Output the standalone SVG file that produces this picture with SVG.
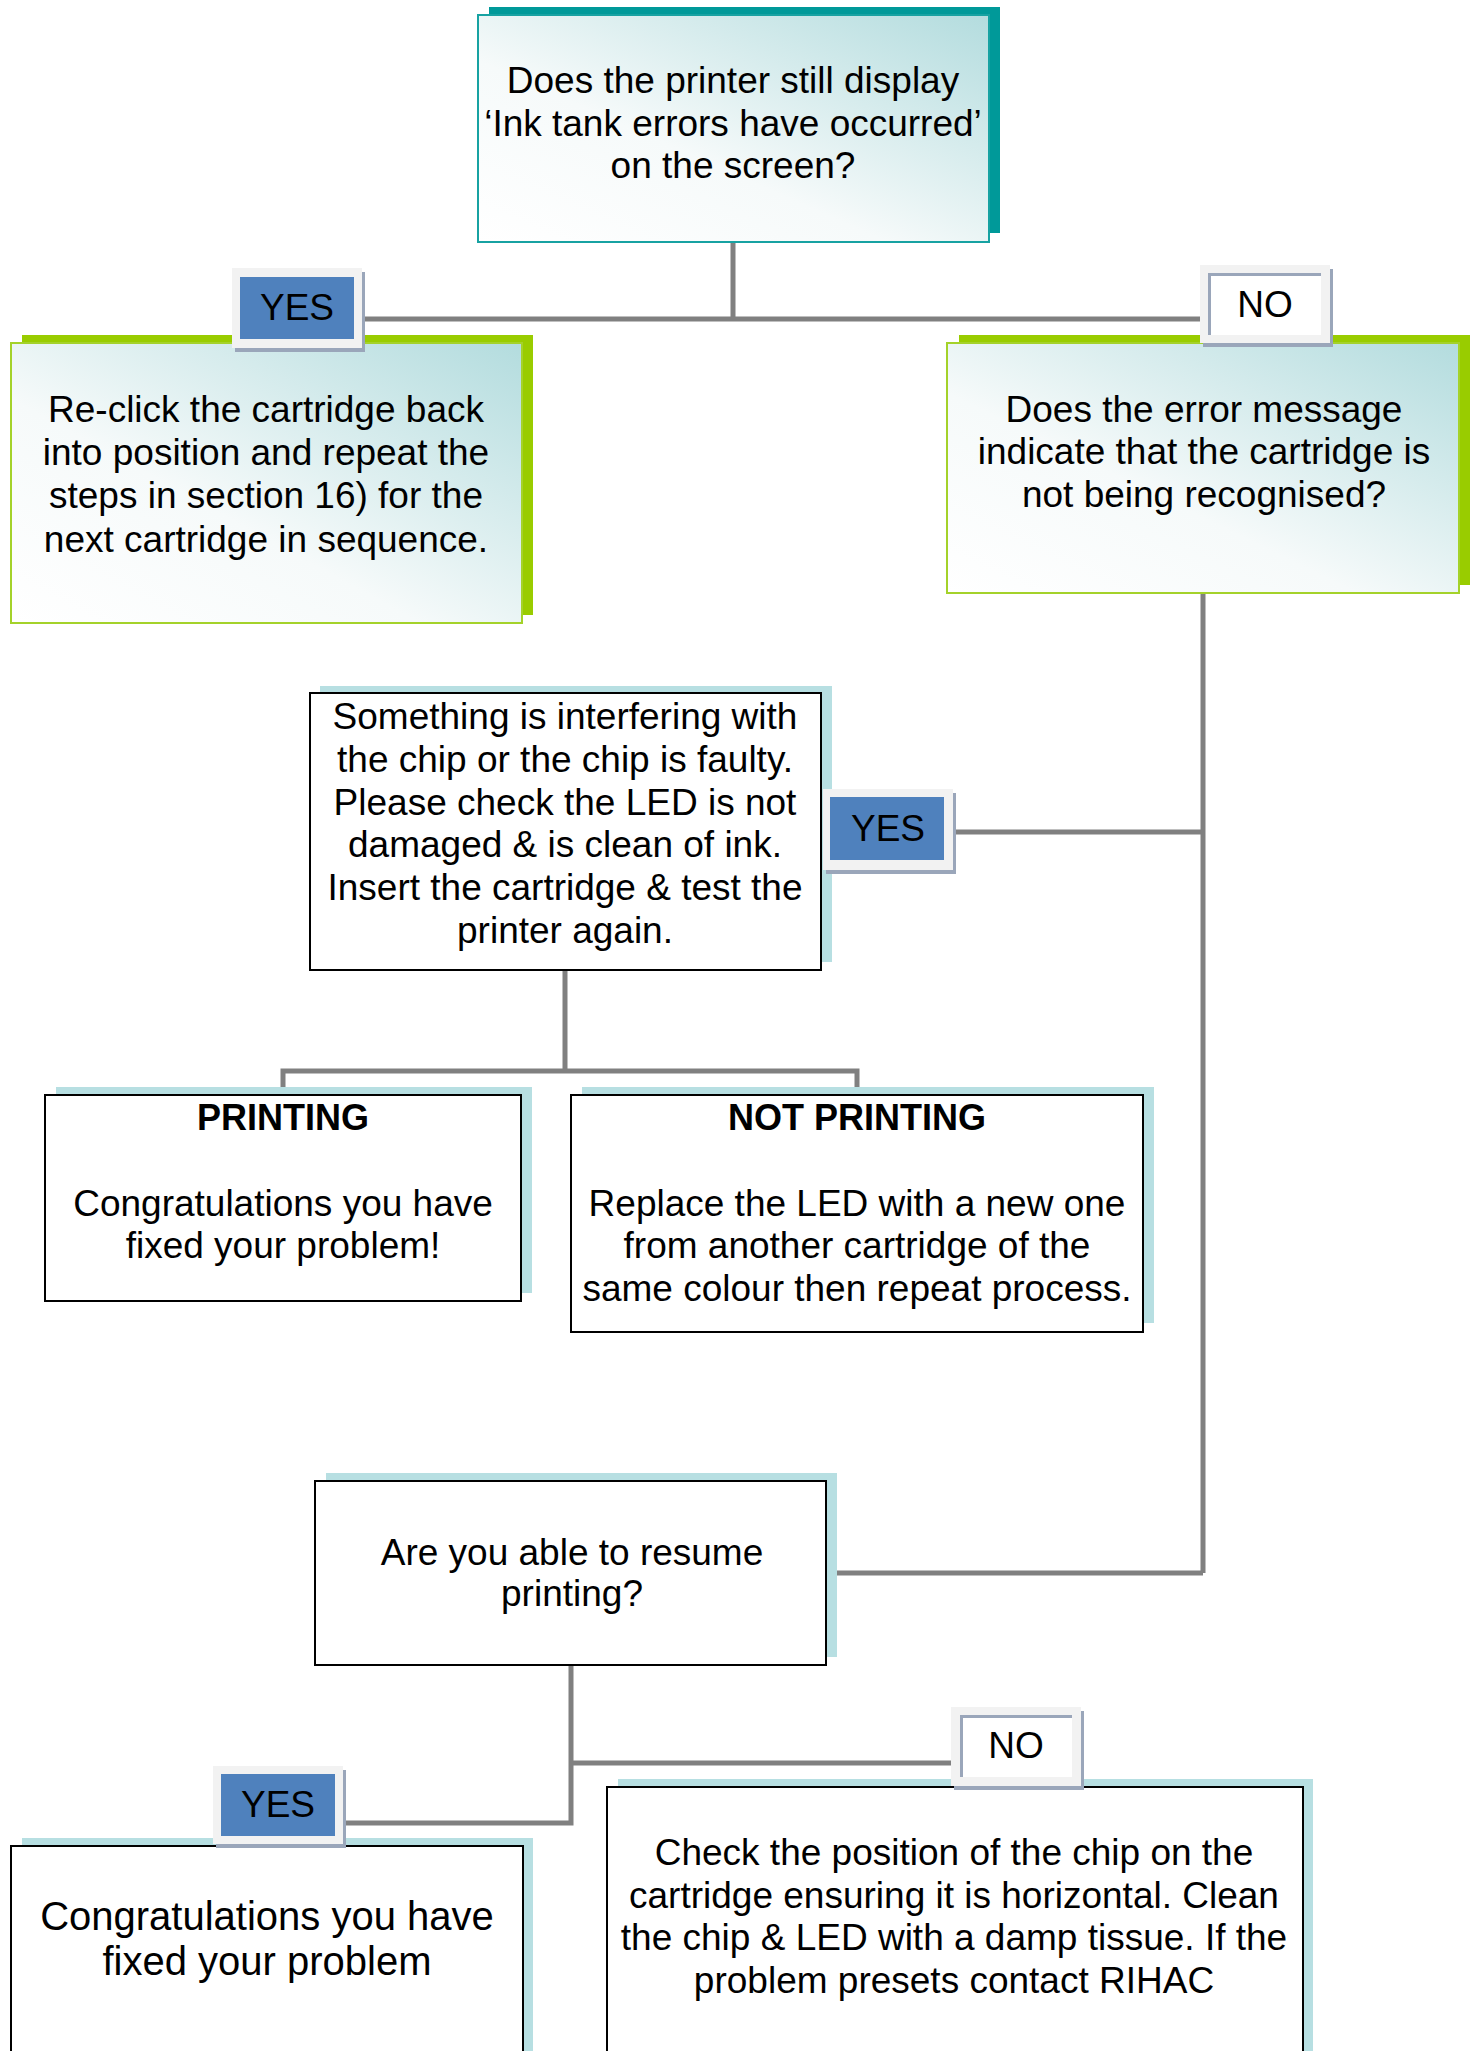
<svg xmlns="http://www.w3.org/2000/svg" width="1474" height="2051" viewBox="0 0 1474 2051">
<defs>
<linearGradient id="gradT" x1="0" y1="1" x2="1" y2="0">
<stop offset="0" stop-color="#ffffff"/>
<stop offset="0.4" stop-color="#f6fafa"/>
<stop offset="1" stop-color="#b3dcde"/>
</linearGradient>
<style>
text{font-family:"Liberation Sans",Arial,sans-serif;fill:#000;text-anchor:middle}
.t{font-size:37px}
.b{font-size:36px;font-weight:bold}
.big{font-size:40px}
.conn{stroke:#808080;stroke-width:5;fill:none}
.shTeal{fill:#009999}
.shGreen{fill:#99cc00}
.shBlue{fill:#b7dfe2}
.frTeal{fill:url(#gradT);stroke:#17a2a2;stroke-width:2}
.frGreen{fill:url(#gradT);stroke:#a4d22a;stroke-width:2}
.frPlain{fill:#ffffff;stroke:#000;stroke-width:2}
.lblOut{fill:#f2f2f2}
.lblSh{fill:#9aa6ba}
.lblBlue{fill:#4f81bd}
.lblWhite{fill:#ffffff}
</style>
</defs>
<rect width="1474" height="2051" fill="#ffffff"/>

<g id="connectors">
<path class="conn" d="M733 242 V319 M362 319 H1200"/>
<path class="conn" d="M1203 593 V1573 M953 832 H1203 M837 1573 H1203"/>
<path class="conn" d="M565 970 V1071 M283 1089 V1071 H857 V1089"/>
<path class="conn" d="M571 1665 V1823 H342 M571 1763 H951"/>
</g>

<g id="n_top">
<rect class="shTeal" x="489" y="7" width="511" height="226"/>
<rect class="frTeal" x="478" y="15" width="511" height="227"/>
<text class="t" x="733" y="93">Does the printer still display</text>
<text class="t" x="733" y="136">‘Ink tank errors have occurred’</text>
<text class="t" x="733" y="178">on the screen?</text>
</g>

<g id="n_reclick">
<rect class="shGreen" x="22" y="335" width="511" height="280"/>
<rect class="frGreen" x="11" y="343" width="511" height="280"/>
<text class="t" x="266" y="422">Re-click the cartridge back</text>
<text class="t" x="266" y="465">into position and repeat the</text>
<text class="t" x="266" y="508">steps in section 16) for the</text>
<text class="t" x="266" y="552">next cartridge in sequence.</text>
</g>

<g id="n_error">
<rect class="shGreen" x="959" y="335" width="511" height="250"/>
<rect class="frGreen" x="947" y="343" width="512" height="250"/>
<text class="t" x="1204" y="422">Does the error message</text>
<text class="t" x="1204" y="464">indicate that the cartridge is</text>
<text class="t" x="1204" y="507">not being recognised?</text>
</g>

<g id="lbl_yes1">
<rect class="lblSh" x="235" y="272" width="130" height="80"/>
<rect class="lblOut" x="232" y="268" width="130" height="80"/>
<rect class="lblBlue" x="240" y="277" width="114" height="62"/>
<text class="t" x="297" y="320">YES</text>
</g>

<g id="lbl_no1">
<rect class="lblSh" x="1203" y="269" width="130" height="78"/>
<rect class="lblOut" x="1200" y="265" width="130" height="78"/>
<rect class="lblSh" x="1208" y="273" width="113" height="62"/>
<rect class="lblWhite" x="1211" y="276" width="110" height="59"/>
<text class="t" x="1265" y="317">NO</text>
</g>

<g id="n_something">
<rect class="shBlue" x="320" y="686" width="512" height="276"/>
<rect class="frPlain" x="310" y="693" width="511" height="277"/>
<text class="t" x="565" y="729">Something is interfering with</text>
<text class="t" x="565" y="772">the chip or the chip is faulty.</text>
<text class="t" x="565" y="815">Please check the LED is not</text>
<text class="t" x="565" y="857">damaged &amp; is clean of ink.</text>
<text class="t" x="565" y="900">Insert the cartridge &amp; test the</text>
<text class="t" x="565" y="943">printer again.</text>
</g>

<g id="lbl_yes2">
<rect class="lblSh" x="826" y="793" width="130" height="81"/>
<rect class="lblOut" x="823" y="789" width="130" height="81"/>
<rect class="lblBlue" x="830" y="797" width="114" height="63"/>
<text class="t" x="888" y="841">YES</text>
</g>

<g id="n_printing">
<rect class="shBlue" x="56" y="1087" width="476" height="206"/>
<rect class="frPlain" x="45" y="1095" width="476" height="206"/>
<text class="b" x="283" y="1130">PRINTING</text>
<text class="t" x="283" y="1216">Congratulations you have</text>
<text class="t" x="283" y="1258">fixed your problem!</text>
</g>

<g id="n_notprinting">
<rect class="shBlue" x="582" y="1087" width="572" height="236"/>
<rect class="frPlain" x="571" y="1095" width="572" height="237"/>
<text class="b" x="857" y="1130">NOT PRINTING</text>
<text class="t" x="857" y="1216">Replace the LED with a new one</text>
<text class="t" x="857" y="1258">from another cartridge of the</text>
<text class="t" x="857" y="1301">same colour then repeat process.</text>
</g>

<g id="n_resume">
<rect class="shBlue" x="326" y="1473" width="511" height="184"/>
<rect class="frPlain" x="315" y="1481" width="511" height="184"/>
<text class="t" x="572" y="1565">Are you able to resume</text>
<text class="t" x="572" y="1606">printing?</text>
</g>

<g id="n_fixed">
<rect class="shBlue" x="22" y="1838" width="511" height="230"/>
<rect class="frPlain" x="11" y="1846" width="512" height="230"/>
<text class="big" x="267" y="1930">Congratulations you have</text>
<text class="big" x="267" y="1975">fixed your problem</text>
</g>

<g id="lbl_yes3">
<rect class="lblSh" x="216" y="1770" width="130" height="78"/>
<rect class="lblOut" x="213" y="1766" width="130" height="78"/>
<rect class="lblBlue" x="221" y="1774" width="114" height="62"/>
<text class="t" x="278" y="1817">YES</text>
</g>

<g id="n_check">
<rect class="shBlue" x="618" y="1779" width="695" height="290"/>
<rect class="frPlain" x="607" y="1787" width="696" height="290"/>
<text class="t" x="954" y="1865">Check the position of the chip on the</text>
<text class="t" x="954" y="1908">cartridge ensuring it is horizontal. Clean</text>
<text class="t" x="954" y="1950">the chip &amp; LED with a damp tissue. If the</text>
<text class="t" x="954" y="1993">problem presets contact RIHAC</text>
</g>

<g id="lbl_no2">
<rect class="lblSh" x="954" y="1711" width="130" height="79"/>
<rect class="lblOut" x="951" y="1707" width="130" height="79"/>
<rect class="lblSh" x="960" y="1715" width="112" height="62"/>
<rect class="lblWhite" x="963" y="1718" width="109" height="59"/>
<text class="t" x="1016" y="1758">NO</text>
</g>
</svg>
